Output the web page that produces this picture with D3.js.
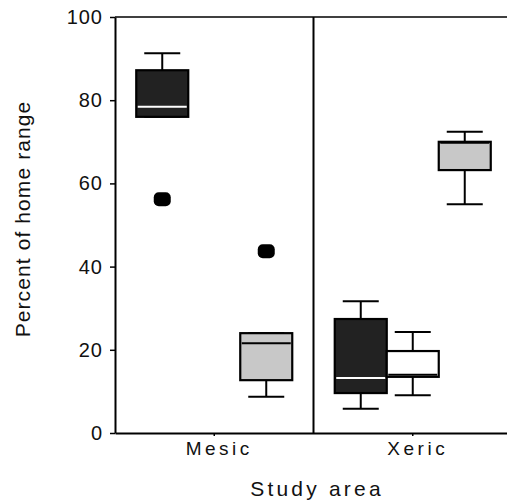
<!DOCTYPE html>
<html>
<head>
<meta charset="utf-8">
<script src="https://cdn.jsdelivr.net/npm/d3@7"></script>
<style>
    body { margin: 0; background: #fff; }
    #chart { width: 507px; height: 501px; overflow: hidden; }
    text { font-family: "Liberation Sans", Arial, sans-serif; fill: #111; }
</style>
</head>
<body>
<div id="chart"></div>
<script>

// study areas on the x axis
const areas = ['Mesic', 'Xeric'];
// habitat series drawn inside each area
const series = ['dark', 'white', 'gray'];
const yTicks = [0, 20, 40, 60, 80, 100];

// box stats per box: [area, series, low whisker, q1, median, q3, high whisker]
const boxArea   = ['Mesic', 'Mesic', 'Xeric', 'Xeric', 'Xeric'];
const boxSeries = ['dark',  'gray',  'dark',  'white', 'gray'];
const boxLow    = [76.0,  8.7,  5.8,  9.1, 55.0];
const boxQ1     = [76.0, 12.7,  9.6, 13.5, 63.2];
const boxMedian = [78.4, 21.6, 13.2, 14.0, 69.8];
const boxQ3     = [87.2, 24.0, 27.4, 19.7, 70.0];
const boxHigh   = [91.3, 24.0, 31.7, 24.3, 72.4];

// outlying points
const outArea   = ['Mesic', 'Mesic'];
const outSeries = ['dark',  'gray'];
const outValue  = [56.2, 43.7];

class BoxChart {

    constructor(opts) {
        this.element = opts.element;
        this.fills = {dark: '#222222', white: '#ffffff', gray: '#c8c8c8'};
        this.medianCol = {dark: '#ffffff', white: '#000000', gray: '#000000'};
        this.create();
    }

    create() {
        const width = 507, height = 501;
        const margin = {top: 17, left: 115};
        const plotW = 397, plotH = 416;

        const svg = d3.select(this.element).append('svg')
            .attr('width', width).attr('height', height);
        const g = svg.append('g')
            .attr('transform', `translate(${margin.left},${margin.top})`);

        this.x = d3.scaleBand().domain(areas).range([0, plotW]);
        this.s = d3.scaleBand().domain(series).range([-78, 78]);
        this.y = d3.scaleLinear().domain([0, 100]).range([plotH, 0]);
        const x = this.x, s = this.s, y = this.y;
        const bw = s.bandwidth();
        const cx = (a, k) => x(a) + x.bandwidth() / 2 + s(k) + bw / 2;

        // top frame line and divider between the study areas
        g.append('line').attr('x1', 0).attr('x2', plotW).attr('y1', 0).attr('y2', 0)
            .attr('stroke', '#000').attr('stroke-width', 1.5);
        g.append('line').attr('x1', x('Xeric')).attr('x2', x('Xeric'))
            .attr('y1', 0).attr('y2', plotH)
            .attr('stroke', '#000').attr('stroke-width', 2);

        // axes
        const yAxis = g.append('g')
            .call(d3.axisLeft(y).tickValues(yTicks).tickSize(5).tickSizeOuter(0).tickPadding(8));
        yAxis.selectAll('text').attr('font-size', 20).attr('letter-spacing', 1).attr('dx', 1);
        const xAxis = g.append('g').attr('transform', `translate(0,${plotH})`)
            .call(d3.axisBottom(x).tickSize(3).tickSizeOuter(0).tickPadding(6));
        xAxis.selectAll('text').attr('font-size', 19).attr('letter-spacing', 3.5).attr('dx', 5);
        svg.selectAll('.domain').attr('stroke', '#000').attr('stroke-width', 2);
        svg.selectAll('.tick line').attr('stroke', '#000').attr('stroke-width', 1.5);
        svg.selectAll('.tick text').attr('fill', '#111').attr('font-family', '"Liberation Sans", Arial, sans-serif');

        // axis titles
        svg.append('text')
            .attr('transform', 'translate(30,219) rotate(-90)')
            .attr('text-anchor', 'middle').attr('font-size', 21).attr('letter-spacing', 1.1)
            .text('Percent of home range');
        svg.append('text')
            .attr('x', 317).attr('y', 496)
            .attr('text-anchor', 'middle').attr('font-size', 21).attr('letter-spacing', 3.2)
            .text('Study area');

        // boxes
        const boxes = boxArea.map((a, i) => ({
            area: a, ser: boxSeries[i], low: boxLow[i], q1: boxQ1[i],
            med: boxMedian[i], q3: boxQ3[i], high: boxHigh[i]
        }));
        const capW = 36;
        const bg = g.selectAll('.box').data(boxes).join('g').classed('box', true);
        bg.append('line')
            .attr('x1', d => cx(d.area, d.ser)).attr('x2', d => cx(d.area, d.ser))
            .attr('y1', d => y(d.high)).attr('y2', d => y(d.low))
            .attr('stroke', '#000').attr('stroke-width', 2);
        bg.append('line')
            .attr('x1', d => cx(d.area, d.ser) - capW / 2).attr('x2', d => cx(d.area, d.ser) + capW / 2)
            .attr('y1', d => y(d.high)).attr('y2', d => y(d.high))
            .attr('stroke', '#000').attr('stroke-width', 2);
        bg.append('line')
            .attr('x1', d => cx(d.area, d.ser) - capW / 2).attr('x2', d => cx(d.area, d.ser) + capW / 2)
            .attr('y1', d => y(d.low)).attr('y2', d => y(d.low))
            .attr('stroke', '#000').attr('stroke-width', 2);
        bg.append('rect')
            .attr('x', d => cx(d.area, d.ser) - bw / 2).attr('width', bw)
            .attr('y', d => y(d.q3)).attr('height', d => y(d.q1) - y(d.q3))
            .attr('fill', d => this.fills[d.ser])
            .attr('stroke', '#000').attr('stroke-width', 2.2);
        bg.append('line')
            .attr('x1', d => cx(d.area, d.ser) - bw / 2 + 1.5).attr('x2', d => cx(d.area, d.ser) + bw / 2 - 1.5)
            .attr('y1', d => y(d.med)).attr('y2', d => y(d.med))
            .attr('stroke', d => this.medianCol[d.ser]).attr('stroke-width', 2);

        // outliers as rounded squares
        const pts = outArea.map((a, i) => ({area: a, ser: outSeries[i], v: outValue[i]}));
        g.selectAll('.out').data(pts).join('rect').classed('out', true)
            .attr('x', d => cx(d.area, d.ser) - 8.5).attr('y', d => y(d.v) - 7)
            .attr('width', 17).attr('height', 14).attr('rx', 5)
            .attr('fill', '#000');
    }
}

new BoxChart({element: document.getElementById('chart')});
</script>
</body>
</html>
